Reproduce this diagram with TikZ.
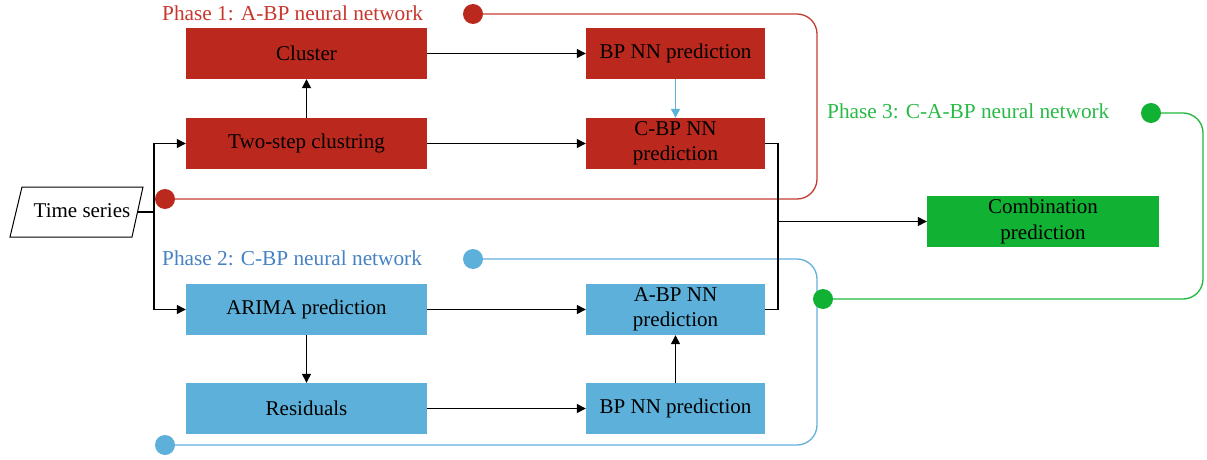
\documentclass[tikz,border=0pt]{standalone}
\usepackage{fontspec}
\setmainfont{Liberation Serif}
\usetikzlibrary{arrows.meta}
\definecolor{boxred}{RGB}{186,40,30}
\definecolor{boxblue}{RGB}{93,176,217}
\definecolor{boxgreen}{RGB}{17,178,52}
\definecolor{labred}{RGB}{200,55,45}
\definecolor{labblue}{RGB}{70,130,195}
\definecolor{labgreen}{RGB}{40,185,70}
\definecolor{linered}{RGB}{195,60,50}
\definecolor{lineblue}{RGB}{100,175,220}
\definecolor{linegreen}{RGB}{30,185,60}
\tikzset{
  txt/.style={font=\fontsize{21}{25.5}\selectfont, align=center},
  widebox/.style={txt, minimum width=241pt, minimum height=51pt, inner sep=0pt},
  narrowbox/.style={txt, minimum width=179pt, minimum height=51pt, inner sep=0pt},
  arr/.style={line width=1.3pt, -{Triangle[length=9pt,width=9pt]}},
  conn/.style={line width=1.3pt},
  loopline/.style={line width=1.3pt, rounded corners=20pt},
  dot/.style={circle, minimum size=20pt, inner sep=0pt},
  phaselab/.style={font=\fontsize{21.3}{25}\selectfont, anchor=west, inner sep=0pt}
}
\begin{document}
\begin{tikzpicture}[x=1pt,y=-1pt]
\useasboundingbox (0,0) rectangle (1207,460);

% boxes
\node[widebox, fill=boxred] (cluster) at (306.5,53.5) {Cluster};
\node[widebox, fill=boxred] (twostep) at (306.5,143.5) {Two-step clustring};
\node[narrowbox, fill=boxred] (bptop) at (675.5,53.5) {BP NN prediction};
\node[narrowbox, fill=boxred] (cbp) at (675.5,143.5) {C-BP NN\\prediction};
\node[widebox, fill=boxblue] (arima) at (306.5,309.5) {ARIMA prediction};
\node[widebox, fill=boxblue] (resid) at (306.5,408.5) {Residuals};
\node[narrowbox, fill=boxblue] (abp) at (675.5,309.5) {A-BP NN\\prediction};
\node[narrowbox, fill=boxblue] (bpbot) at (675.5,408.5) {BP NN prediction};
\node[txt, minimum width=232pt, minimum height=51pt, inner sep=0pt, fill=boxgreen] (comb) at (1043,221.5) {Combination\\prediction};

% time series
\draw[line width=1pt] (22,187) -- (143,187) -- (132,237) -- (10,237) -- cycle;
\node[txt, inner sep=0pt] (ts) at (82,211) {Time series};
\coordinate (tsr) at (137.5,212);
\coordinate (split) at (154,212);
\coordinate (join) at (778,221.5);

% labels
\node[phaselab, text=labred] (ph1) at (162,13.5) {Phase 1: A-BP neural network};
\node[phaselab, text=labblue] (ph2) at (162,258.5) {Phase 2: C-BP neural network};
\node[phaselab, text=labgreen] (ph3) at (827,111.5) {Phase 3: C-A-BP neural network};

% loops
\coordinate (r1) at (473,14);
\coordinate (r2) at (165,199);
\draw[loopline, draw=linered] (r1) -- (817,14) -- (817,199) -- (r2);
\node[dot, fill=boxred] (rd1) at (r1) {};
\node[dot, fill=boxred] (rd2) at (r2) {};

\coordinate (b1) at (473,259);
\coordinate (b2) at (165,445);
\draw[loopline, draw=lineblue] (b1) -- (817,259) -- (817,445) -- (b2);
\node[dot, fill=boxblue] (bd1) at (b1) {};
\node[dot, fill=boxblue] (bd2) at (b2) {};

\coordinate (g1) at (1151,113);
\coordinate (g2) at (823,299);
\draw[loopline, draw=linegreen] (g1) -- (1203,113) -- (1203,299) -- (g2);
\node[dot, fill=boxgreen] (gd1) at (g1) {};
\node[dot, fill=boxgreen] (gd2) at (g2) {};

% connectors
\draw[conn] (tsr) -- (split);
\draw[arr] (split) |- (twostep.west);
\draw[arr] (split) |- (arima.west);
\draw[arr] (twostep.north) -- (cluster.south);
\draw[arr] (cluster.east) -- (bptop.west);
\draw[arr] (twostep.east) -- (cbp.west);
\draw[arr, draw=boxblue, -{Triangle[length=9pt,width=9pt,fill=boxblue]}, line width=1.2pt] (bptop.south) -- (cbp.north);
\draw[conn] (cbp.east) -| (join);
\draw[conn] (abp.east) -| (join);
\draw[arr] (join) -- (comb.west);
\draw[arr] (arima.south) -- (resid.north);
\draw[arr] (arima.east) -- (abp.west);
\draw[arr] (resid.east) -- (bpbot.west);
\draw[arr] (bpbot.north) -- (abp.south);
\end{tikzpicture}
\end{document}
